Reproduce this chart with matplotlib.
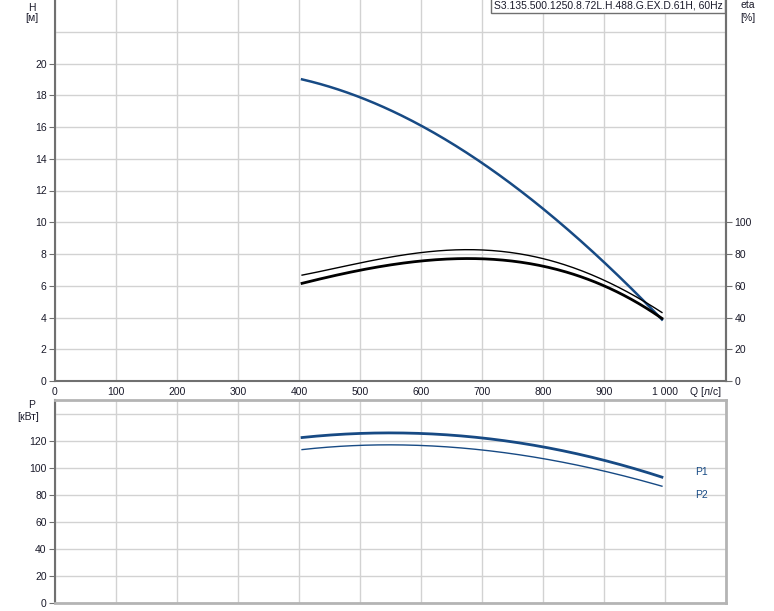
import numpy as np
import matplotlib
matplotlib.use("Agg")
import matplotlib.pyplot as plt

plt.rcParams['font.family'] = ['Liberation Sans', 'DejaVu Sans']
plt.rcParams['font.size'] = 7.5

# flow points (l/s)
q = [405, 500, 600, 700, 800, 900, 995]
# head H [m]
head = [19.0, 17.9, 16.0, 13.8, 10.9, 7.4, 3.9]
# efficiency curves [%]
eta_upper = [66.5, 75.0, 80.3, 82.0, 78.5, 62.5, 43.4]
eta_lower = [61.4, 70.2, 75.2, 76.6, 73.3, 59.3, 39.6]
# power [kW]
q_p = [405, 540, 650, 730, 800, 900, 995]
p1 = [122.2, 125.9, 124.0, 120.2, 115.0, 106.0, 92.8]
p2 = [113.3, 117.0, 115.0, 111.6, 106.4, 97.8, 86.2]

x_ticks = [0, 100, 200, 300, 400, 500, 600, 700, 800, 900, 1000]
x_labels = ['0', '100', '200', '300', '400', '500', '600', '700', '800', '900', '1 000']

blue = '#174a84'
grid_c = '#d2d2d2'
txt = '#1a1a2a'


def smooth(x, y, deg=3, n=200):
    c = np.polyfit(x, y, deg)
    xs = np.linspace(x[0], x[-1], n)
    return xs, np.polyval(c, xs)


fig = plt.figure(figsize=(7.74, 6.11), dpi=100)
ax = fig.add_axes([55/774, 1-381/611, 671/774, 381/611])
ax2 = ax.twinx()
bx = fig.add_axes([55/774, 1-603/611, 671/774, 203/611])

xmax = 1091
# top chart
ax.set_xlim(0, xmax)
ax.set_ylim(0, 24)
ax.set_xticks(x_ticks)
ax.set_xticklabels(x_labels, color=txt)
ax.set_xticks([1100], minor=True)
ax.set_yticks(range(0, 22, 2))
ax.set_yticks([22], minor=True)
ax.set_yticklabels([str(v) for v in range(0, 22, 2)], color=txt)
ax.grid(True, which='both', color=grid_c, lw=1)
ax.tick_params(axis='x', length=0, pad=4)
ax.tick_params(axis='x', which='minor', length=0)
ax.tick_params(axis='y', length=4, color='#707070', pad=2)
ax.tick_params(axis='y', which='minor', length=0)
ax.set_axisbelow(True)
ax.spines['top'].set_visible(False)
for s in ['left', 'bottom', 'right']:
    ax.spines[s].set_color('#707070')
    ax.spines[s].set_linewidth(1.5)

ax2.set_ylim(0, 240)
ax2.set_yticks(range(0, 101, 20))
ax2.set_yticklabels([str(v) for v in range(0, 101, 20)], color=txt)
ax2.tick_params(axis='y', length=4, color='#707070', pad=2)
for s in ['top', 'left', 'bottom']:
    ax2.spines[s].set_visible(False)
ax2.spines['right'].set_color('#707070')
ax2.spines['right'].set_linewidth(1.5)

xs, ys = smooth(q, eta_upper, 4)
ax2.plot(xs, ys, color='black', lw=1.0)
xs, ys = smooth(q, eta_lower, 4)
ax2.plot(xs, ys, color='black', lw=2.0)
xs, ys = smooth(q, head)
ax.plot(xs, ys, color=blue, lw=1.8, zorder=5)

fig.text(32/774, 1-8/611, 'H', ha='center', va='center', color=txt)
fig.text(32/774, 1-18/611, '[м]', ha='center', va='center', color=txt)
fig.text(748/774, 1-5/611, 'eta', ha='center', va='center', color=txt)
fig.text(748/774, 1-18/611, '[%]', ha='center', va='center', color=txt)
fig.text(690/774, 1-392/611, 'Q [л/с]', ha='left', va='center', color=txt)
ax.text(0.995, 0.998, 'S3.135.500.1250.8.72L.H.488.G.EX.D.61H, 60Hz',
        transform=ax.transAxes, ha='right', va='top', color=txt, zorder=10,
        bbox=dict(boxstyle='square,pad=0.25', fc='white', ec='#707070', lw=1))

# bottom chart
bx.set_xlim(0, xmax)
bx.set_ylim(0, 150)
bx.set_xticks(x_ticks + [1100])
bx.set_xticklabels([])
bx.tick_params(axis='x', length=0)
bx.set_yticks(range(0, 121, 20))
bx.set_yticks([140], minor=True)
bx.set_yticklabels([str(v) for v in range(0, 121, 20)], color=txt)
bx.tick_params(axis='y', length=4, color='#707070', pad=2)
bx.tick_params(axis='y', which='minor', length=0)
bx.grid(True, which='both', color=grid_c, lw=1)
bx.set_axisbelow(True)
bx.spines['left'].set_color('#707070')
bx.spines['left'].set_linewidth(1.5)
for s in ['top', 'bottom', 'right']:
    bx.spines[s].set_color('#b4b4b4')
    bx.spines[s].set_linewidth(2)

xs, ys = smooth(q_p, p1)
bx.plot(xs, ys, color=blue, lw=2.0)
xs, ys = smooth(q_p, p2)
bx.plot(xs, ys, color=blue, lw=1.0)
bx.text(1050, 97, 'P1', color=blue, ha='left', va='center')
bx.text(1050, 80, 'P2', color=blue, ha='left', va='center')

fig.text(32/774, 1-405/611, 'P', ha='center', va='center', color=txt)
fig.text(28/774, 1-417/611, '[кВт]', ha='center', va='center', color=txt)

fig.savefig('out.png', dpi=100)
